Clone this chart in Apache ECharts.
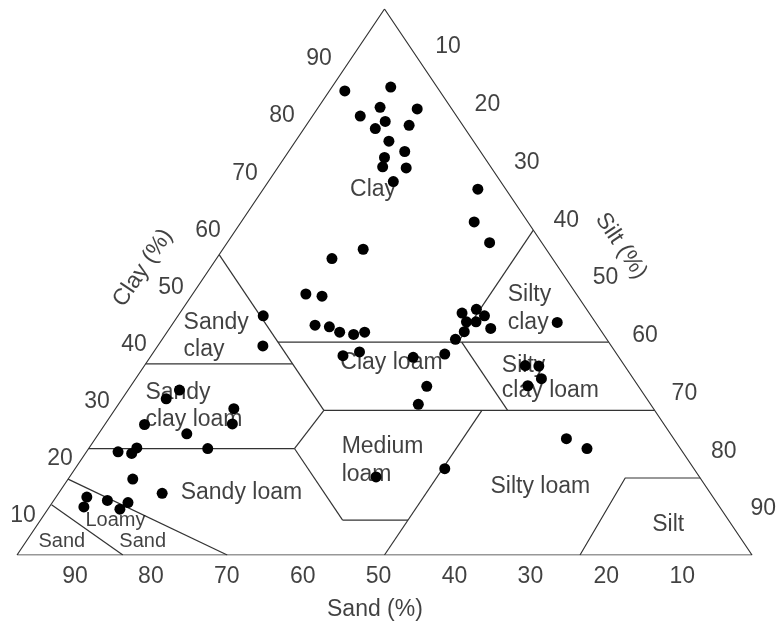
<!DOCTYPE html>
<html><head><meta charset="utf-8">
<script src="https://cdn.jsdelivr.net/npm/echarts@6/dist/echarts.min.js"></script>
<style>html,body{margin:0;padding:0;background:#fff}#c{width:778px;height:628px}</style>
</head><body><div id="c"></div>
<script>
// Sample composition (percent)
const clayPct = [85.0, 85.7, 82.0, 81.7, 80.4, 79.4, 78.1, 78.7, 75.8, 73.9, 72.8, 71.1, 70.9, 68.4,
  67.0, 61.0, 57.2,
  56.0, 54.3, 47.8, 47.4, 42.1, 41.8, 40.8, 40.4, 40.8,
  44.3, 45.0, 43.8, 42.7, 42.7, 41.5, 40.9, 39.5,
  36.8, 36.2, 30.9, 27.6, 37.2, 36.5,
  43.8, 38.3,
  30.2, 28.6, 26.8, 24.0, 23.9, 22.2, 18.9, 18.6, 19.6, 19.5, 13.9, 11.3, 10.6, 10.0, 9.6, 8.8, 8.4,
  42.6, 34.7, 34.6, 32.3, 31.0, 21.3, 19.5,
  14.3, 15.8];
const sandPct = [12.9, 6.3, 9.6, 4.7, 13.1, 10.2, 12.2, 7.3, 11.5, 10.3, 13.6, 14.7, 11.6, 14.6,
  3.8, 7.3, 7.1,
  24.9, 30.0, 36.8, 34.8, 38.4, 36.6, 35.7, 34.0, 32.3,
  17.3, 15.0, 14.5, 17.5, 16.2, 14.8, 18.7, 20.6,
  23.4, 28.0, 28.8, 31.6, 34.8, 37.4,
  44.6, 47.4,
  62.8, 65.4, 57.1, 58.7, 70.7, 65.8, 76.8, 75.1, 73.9, 64.3, 77.3, 74.6, 85.2, 82.7, 80.1, 86.5, 81.8,
  5.2, 13.5, 11.7, 12.5, 15.0, 14.6, 12.7,
  44.0, 33.9];

// Axis ticks
const sandTicks = [90, 80, 70, 60, 50, 40, 30, 20, 10];
const clayTicks = [10, 20, 30, 40, 50, 60, 70, 80, 90];
const siltTicks = [10, 20, 30, 40, 50, 60, 70, 80, 90];
const axisTitles = ['Clay (%)', 'Silt (%)', 'Sand (%)'];

// Texture class boundaries as [sand, clay] vertices
const classBoundaries = [
  [[45, 55], [45, 26.5]],
  [[45, 39], [0, 39]],
  [[65, 35], [45, 35]],
  [[80.5, 19.5], [52.5, 19.5]],
  [[52.5, 19.5], [45, 26.5]],
  [[45, 26.5], [0, 26.5]],
  [[52.5, 19.5], [52.5, 6.4]],
  [[52.5, 6.4], [43.6, 6.4]],
  [[50, 0], [23.5, 26.5]],
  [[20, 26.5], [20, 39]],
  [[20.5, 39], [0, 59.5]],
  [[23.4, 0], [10.2, 14.1], [0, 14.1]],
  [[86.1, 13.9], [71.4, 0]],
  [[90.7, 9.2], [85.6, 0]]
];
const classNames = ['Clay', 'Sandy\nclay', 'Sandy\nclay loam', 'Sandy loam', 'Loamy', 'Sand', 'Sand',
  'Clay loam', 'Medium\nloam', 'Silty\nclay', 'Silty\nclay loam', 'Silty loam', 'Silt'];

function toXY(sand, clay) { return [100 - sand - clay / 2, clay]; }

const FONT = 'Liberation Sans, Arial, Helvetica, sans-serif';
const TXT = '#111';
const LINE = '#333';

// layout of class labels: [x, y, align, lineHeight, fontSize]
const classLayout = [
  [48.44, 67.0, 'center', 27, 23],
  [22.6, 40.0, 'left', 27, 23],
  [17.4, 27.2, 'left', 27, 23],
  [22.2, 11.5, 'left', 27, 23],
  [13.4, 6.4, 'center', 22, 20],
  [17.1, 2.4, 'center', 22, 20],
  [6.1, 2.4, 'center', 22, 20],
  [50.95, 35.2, 'center', 27, 23],
  [44.1, 17.2, 'left', 28, 23],
  [66.7, 45.2, 'left', 28, 23],
  [65.9, 32.3, 'left', 25, 23],
  [71.2, 12.45, 'center', 27, 23],
  [88.6, 5.5, 'center', 27, 23]
];

function textItem(text, x, y, align, extra) {
  const lab = Object.assign({
    show: true, formatter: text, color: TXT, fontFamily: FONT, fontSize: 23,
    position: align === 'left' ? 'right' : 'inside', distance: 0, align: align
  }, extra || {});
  return { value: [x, y], label: lab };
}

const texts = [];
classNames.forEach((n, i) => {
  const L = classLayout[i];
  texts.push(textItem(n, L[0], L[1], L[2], { lineHeight: L[3], fontSize: L[4] }));
});
sandTicks.forEach(v => {
  texts.push(textItem(String(v), (58 + (90 - v) * 7.59) / 7.35, -4.03, 'center'));
});
clayTicks.forEach(v => {
  texts.push(textItem(String(v), (302 - (90 - v) * 3.7) / 7.35, (496 - (90 - v) * 5.71) / 5.46, 'center'));
});
siltTicks.forEach(v => {
  texts.push(textItem(String(v), (431 + (v - 10) * 3.94) / 7.35, (508 - (v - 10) * 5.775) / 5.46, 'center'));
});
texts.push(textItem(axisTitles[0], 17.14, 52.56, 'center', { rotate: 56 }));
texts.push(textItem(axisTitles[1], 82.18, 56.6, 'center', { rotate: -56 }));
texts.push(textItem(axisTitles[2], 48.7, -10.07, 'center'));

const series = [];
series.push({
  type: 'line', data: [[0, 0], [50, 100], [100, 0], [0, 0]], showSymbol: false, silent: true,
  lineStyle: { color: LINE, width: 1.2 }, z: 2
});
classBoundaries.forEach(seg => {
  series.push({
    type: 'line', data: seg.map(p => toXY(p[0], p[1])), showSymbol: false, silent: true,
    lineStyle: { color: LINE, width: 1.2 }, z: 2
  });
});
series.push({
  type: 'scatter', data: clayPct.map((c, i) => toXY(sandPct[i], c)), symbolSize: 11,
  itemStyle: { color: '#000', opacity: 1 }, z: 5, clip: false
});
series.push({
  type: 'scatter', data: texts, symbolSize: 1, itemStyle: { color: 'rgba(0,0,0,0)' },
  clip: false, z: 4, silent: true
});

const chart = echarts.init(document.getElementById('c'), null, { renderer: 'canvas' });
chart.setOption({
  animation: false,
  backgroundColor: '#fff',
  grid: { left: 17, right: 26, top: 9, bottom: 73 },
  xAxis: { type: 'value', min: 0, max: 100, show: false },
  yAxis: { type: 'value', min: 0, max: 100, show: false },
  series: series
});
</script></body></html>
